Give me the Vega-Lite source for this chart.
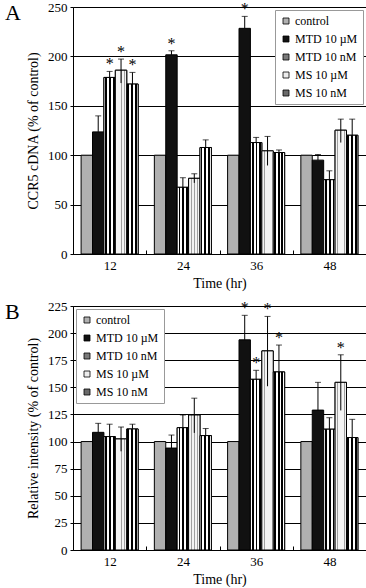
{
  "$schema": "https://vega.github.io/schema/vega-lite/v6.json",
  "background": "white",
  "padding": {"left": 4, "top": 0, "right": 2, "bottom": 0},
  "datasets": {
    "a": [
      {"t": 12, "s": "control", "v": 100},
      {"t": 12, "s": "MTD 10 µM", "v": 123.6, "hi": 139.8},
      {"t": 12, "s": "MTD 10 nM", "v": 178.7, "hi": 184.8, "sig": true},
      {"t": 12, "s": "MS 10 µM", "v": 186, "hi": 197.3, "lo": 173, "sig": true},
      {"t": 12, "s": "MS 10 nM", "v": 172, "hi": 183.8, "sig": true},
      {"t": 24, "s": "control", "v": 100},
      {"t": 24, "s": "MTD 10 µM", "v": 201.6, "hi": 205.7, "sig": true},
      {"t": 24, "s": "MTD 10 nM", "v": 67.5, "hi": 77.2},
      {"t": 24, "s": "MS 10 µM", "v": 76.6, "hi": 81.2, "lo": 72},
      {"t": 24, "s": "MS 10 nM", "v": 107.8, "hi": 115.5},
      {"t": 36, "s": "control", "v": 100},
      {"t": 36, "s": "MTD 10 µM", "v": 228.4, "hi": 240.5, "sig": true},
      {"t": 36, "s": "MTD 10 nM", "v": 112.8, "hi": 118},
      {"t": 36, "s": "MS 10 µM", "v": 104.4, "hi": 119, "lo": 89.6},
      {"t": 36, "s": "MS 10 nM", "v": 102.7, "hi": 105.3},
      {"t": 48, "s": "control", "v": 100},
      {"t": 48, "s": "MTD 10 µM", "v": 95, "hi": 100.7},
      {"t": 48, "s": "MTD 10 nM", "v": 75.2, "hi": 84.2},
      {"t": 48, "s": "MS 10 µM", "v": 125.3, "hi": 136.5, "lo": 112.8},
      {"t": 48, "s": "MS 10 nM", "v": 120.2, "hi": 136.5}
    ],
    "b": [
      {"t": 12, "s": "control", "v": 100},
      {"t": 12, "s": "MTD 10 µM", "v": 108.5, "hi": 116.8},
      {"t": 12, "s": "MTD 10 nM", "v": 104.6, "hi": 116},
      {"t": 12, "s": "MS 10 µM", "v": 102.4, "hi": 113.4, "lo": 91},
      {"t": 12, "s": "MS 10 nM", "v": 111.6, "hi": 116},
      {"t": 24, "s": "control", "v": 100},
      {"t": 24, "s": "MTD 10 µM", "v": 94, "hi": 106},
      {"t": 24, "s": "MTD 10 nM", "v": 112.8, "hi": 124.5},
      {"t": 24, "s": "MS 10 µM", "v": 124.5, "hi": 140, "lo": 108},
      {"t": 24, "s": "MS 10 nM", "v": 105.5, "hi": 112},
      {"t": 36, "s": "control", "v": 100},
      {"t": 36, "s": "MTD 10 µM", "v": 193.8, "hi": 216.4, "sig": true},
      {"t": 36, "s": "MTD 10 nM", "v": 157.4, "hi": 165.7, "sig": true},
      {"t": 36, "s": "MS 10 µM", "v": 183.6, "hi": 215.4, "lo": 151, "sig": true},
      {"t": 36, "s": "MS 10 nM", "v": 164.2, "hi": 189, "sig": true},
      {"t": 48, "s": "control", "v": 100},
      {"t": 48, "s": "MTD 10 µM", "v": 129, "hi": 154.6},
      {"t": 48, "s": "MTD 10 nM", "v": 111.4, "hi": 122},
      {"t": 48, "s": "MS 10 µM", "v": 154.6, "hi": 180, "lo": 128.7, "sig": true},
      {"t": 48, "s": "MS 10 nM", "v": 103.7, "hi": 120.5}
    ]
  },
  "config": {
    "font": "Liberation Serif",
    "view": {"stroke": "black", "strokeWidth": 1},
    "axis": {
      "labelFont": "Liberation Serif", "titleFont": "Liberation Serif",
      "labelColor": "black", "titleColor": "black",
      "labelFontSize": 13, "titleFontSize": 14, "titleFontWeight": "normal",
      "domain": false, "tickColor": "black"
    },
    "legend": {
      "labelFont": "Liberation Serif", "labelFontSize": 12, "labelColor": "black",
      "symbolType": "square", "symbolSize": 36, "symbolStrokeColor": "black", "symbolStrokeWidth": 0.8,
      "fillColor": "white", "strokeColor": "#999", "padding": 5, "rowPadding": 6, "labelOffset": 3,
      "offset": 3
    },
    "title": {"font": "Liberation Serif", "fontSize": 22, "fontWeight": "normal", "color": "black"}
  },
  "resolve": {"scale": {"y": "independent", "fill": "independent"}, "legend": {"fill": "independent"}},
  "spacing": 8,
  "vconcat": [
    {
      "width": 293, "height": 247,
      "title": {"text": "A", "anchor": "start", "frame": "group", "dx": -68, "dy": 22, "offset": -2},
      "data": {"name": "a"},
      "encoding": {
        "x": {"field": "t", "type": "ordinal", "title": "Time (hr)", "scale": {"paddingInner": 0, "paddingOuter": 0},
          "axis": {"labelAngle": 0, "tickBand": "extent", "tickSize": -4, "labelPadding": 9, "titlePadding": 4, "grid": false,
            "labelFont": "Liberation Serif", "titleFont": "Liberation Serif", "labelFontSize": 13, "titleFontSize": 14}},
        "xOffset": {"field": "s", "type": "nominal", "scale": {"domain": ["control", "MTD 10 µM", "MTD 10 nM", "MS 10 µM", "MS 10 nM"], "paddingInner": 0, "paddingOuter": 0.71}},
        "y": {"field": "v", "type": "quantitative", "title": "CCR5 cDNA (% of control)",
          "scale": {"domain": [0, 250], "nice": false},
          "axis": {"values": [0, 50, 100, 150, 200, 250], "grid": true, "gridColor": "black", "gridOpacity": 1, "tickSize": 3, "labelPadding": 3, "titlePadding": 7,
            "labelFont": "Liberation Serif", "titleFont": "Liberation Serif", "labelFontSize": 13, "titleFontSize": 14}}
      },
      "layer": [
        {
          "mark": {"type": "bar", "stroke": "black", "strokeWidth": 1},
          "encoding": {
            "fill": {"field": "s", "type": "nominal",
              "scale": {"domain": ["control", "MTD 10 µM", "MTD 10 nM", "MS 10 µM", "MS 10 nM"],
                "range": ["#b0b0b0", "#111111", "#7a7a7a", "#ececec", "#6a6a6a"]},
              "legend": {"title": null, "orient": "top-right"}}
          }
        },
        {
          "transform": [{"filter": "datum.s == 'MTD 10 nM'"}],
          "mark": {"type": "bar", "stroke": "black", "strokeWidth": 1,
            "fill": {"gradient": "linear", "x1": 0, "y1": 0, "x2": 1, "y2": 0, "stops": [
              {"offset": 0, "color": "white"}, {"offset": 0.12, "color": "white"}, {"offset": 0.12, "color": "black"}, {"offset": 0.27, "color": "black"},
              {"offset": 0.27, "color": "white"}, {"offset": 0.45, "color": "white"}, {"offset": 0.45, "color": "black"}, {"offset": 0.6, "color": "black"},
              {"offset": 0.6, "color": "white"}, {"offset": 0.78, "color": "white"}, {"offset": 0.78, "color": "black"}, {"offset": 0.93, "color": "black"},
              {"offset": 0.93, "color": "white"}, {"offset": 1, "color": "white"}]}}
        },
        {
          "transform": [{"filter": "datum.s == 'MS 10 µM'"}],
          "mark": {"type": "bar", "stroke": "black", "strokeWidth": 1,
            "fill": {"gradient": "linear", "x1": 0, "y1": 0, "x2": 1, "y2": 0, "stops": [
              {"offset": 0, "color": "#f4f4f4"}, {"offset": 0.2, "color": "#f4f4f4"}, {"offset": 0.2, "color": "#a0a0a0"}, {"offset": 0.26, "color": "#a0a0a0"},
              {"offset": 0.26, "color": "#f4f4f4"}, {"offset": 0.5, "color": "#f4f4f4"}, {"offset": 0.5, "color": "#a0a0a0"}, {"offset": 0.56, "color": "#a0a0a0"},
              {"offset": 0.56, "color": "#f4f4f4"}, {"offset": 0.78, "color": "#f4f4f4"}, {"offset": 0.78, "color": "#a0a0a0"}, {"offset": 0.84, "color": "#a0a0a0"},
              {"offset": 0.84, "color": "#f4f4f4"}, {"offset": 1, "color": "#f4f4f4"}]}}
        },
        {
          "transform": [{"filter": "datum.s == 'MS 10 nM'"}],
          "mark": {"type": "bar", "stroke": "black", "strokeWidth": 1,
            "fill": {"gradient": "linear", "x1": 0, "y1": 0, "x2": 1, "y2": 0, "stops": [
              {"offset": 0, "color": "white"}, {"offset": 0.05, "color": "white"}, {"offset": 0.05, "color": "black"}, {"offset": 0.22, "color": "black"},
              {"offset": 0.22, "color": "white"}, {"offset": 0.38, "color": "white"}, {"offset": 0.38, "color": "black"}, {"offset": 0.55, "color": "black"},
              {"offset": 0.55, "color": "white"}, {"offset": 0.71, "color": "white"}, {"offset": 0.71, "color": "black"}, {"offset": 0.88, "color": "black"},
              {"offset": 0.88, "color": "white"}, {"offset": 1, "color": "white"}]}}
        },
        {
          "transform": [{"filter": "datum.hi != null"}],
          "mark": {"type": "rule", "color": "black", "strokeWidth": 1},
          "encoding": {"y2": {"field": "hi"}}
        },
        {
          "transform": [{"filter": "datum.lo != null"}],
          "mark": {"type": "rule", "color": "black", "strokeWidth": 1},
          "encoding": {"y": {"field": "lo", "type": "quantitative", "title": "CCR5 cDNA (% of control)"}, "y2": {"field": "v"}}
        },
        {
          "transform": [{"filter": "datum.hi != null"}],
          "mark": {"type": "tick", "color": "black", "size": 6, "thickness": 1, "orient": "horizontal"},
          "encoding": {"y": {"field": "hi", "type": "quantitative", "title": "CCR5 cDNA (% of control)"}}
        },
        {
          "transform": [{"filter": "datum.sig == true"}],
          "mark": {"type": "text", "text": "*", "fontSize": 16, "font": "Liberation Serif", "baseline": "middle", "dy": -7, "fill": "black"},
          "encoding": {"y": {"field": "hi", "type": "quantitative", "title": "CCR5 cDNA (% of control)"}}
        }
      ]
    },
    {
      "width": 293, "height": 244,
      "title": {"text": "B", "anchor": "start", "frame": "group", "dx": -68, "dy": 22, "offset": -2},
      "data": {"name": "b"},
      "encoding": {
        "x": {"field": "t", "type": "ordinal", "title": "Time (hr)", "scale": {"paddingInner": 0, "paddingOuter": 0},
          "axis": {"labelAngle": 0, "tickBand": "extent", "tickSize": -4, "labelPadding": 9, "titlePadding": 4, "grid": false,
            "labelFont": "Liberation Serif", "titleFont": "Liberation Serif", "labelFontSize": 13, "titleFontSize": 14}},
        "xOffset": {"field": "s", "type": "nominal", "scale": {"domain": ["control", "MTD 10 µM", "MTD 10 nM", "MS 10 µM", "MS 10 nM"], "paddingInner": 0, "paddingOuter": 0.71}},
        "y": {"field": "v", "type": "quantitative", "title": "Relative intensity (% of control)",
          "scale": {"domain": [0, 225], "nice": false},
          "axis": {"values": [0, 25, 50, 75, 100, 125, 150, 175, 200, 225], "grid": true, "gridColor": "black", "gridOpacity": 1, "tickSize": 3, "labelPadding": 3, "titlePadding": 7,
            "labelFont": "Liberation Serif", "titleFont": "Liberation Serif", "labelFontSize": 13, "titleFontSize": 14}}
      },
      "layer": [
        {
          "mark": {"type": "bar", "stroke": "black", "strokeWidth": 1},
          "encoding": {
            "fill": {"field": "s", "type": "nominal",
              "scale": {"domain": ["control", "MTD 10 µM", "MTD 10 nM", "MS 10 µM", "MS 10 nM"],
                "range": ["#b0b0b0", "#111111", "#7a7a7a", "#ececec", "#6a6a6a"]},
              "legend": {"title": null, "orient": "top-left"}}
          }
        },
        {
          "transform": [{"filter": "datum.s == 'MTD 10 nM'"}],
          "mark": {"type": "bar", "stroke": "black", "strokeWidth": 1,
            "fill": {"gradient": "linear", "x1": 0, "y1": 0, "x2": 1, "y2": 0, "stops": [
              {"offset": 0, "color": "white"}, {"offset": 0.12, "color": "white"}, {"offset": 0.12, "color": "black"}, {"offset": 0.27, "color": "black"},
              {"offset": 0.27, "color": "white"}, {"offset": 0.45, "color": "white"}, {"offset": 0.45, "color": "black"}, {"offset": 0.6, "color": "black"},
              {"offset": 0.6, "color": "white"}, {"offset": 0.78, "color": "white"}, {"offset": 0.78, "color": "black"}, {"offset": 0.93, "color": "black"},
              {"offset": 0.93, "color": "white"}, {"offset": 1, "color": "white"}]}}
        },
        {
          "transform": [{"filter": "datum.s == 'MS 10 µM'"}],
          "mark": {"type": "bar", "stroke": "black", "strokeWidth": 1,
            "fill": {"gradient": "linear", "x1": 0, "y1": 0, "x2": 1, "y2": 0, "stops": [
              {"offset": 0, "color": "#f4f4f4"}, {"offset": 0.2, "color": "#f4f4f4"}, {"offset": 0.2, "color": "#a0a0a0"}, {"offset": 0.26, "color": "#a0a0a0"},
              {"offset": 0.26, "color": "#f4f4f4"}, {"offset": 0.5, "color": "#f4f4f4"}, {"offset": 0.5, "color": "#a0a0a0"}, {"offset": 0.56, "color": "#a0a0a0"},
              {"offset": 0.56, "color": "#f4f4f4"}, {"offset": 0.78, "color": "#f4f4f4"}, {"offset": 0.78, "color": "#a0a0a0"}, {"offset": 0.84, "color": "#a0a0a0"},
              {"offset": 0.84, "color": "#f4f4f4"}, {"offset": 1, "color": "#f4f4f4"}]}}
        },
        {
          "transform": [{"filter": "datum.s == 'MS 10 nM'"}],
          "mark": {"type": "bar", "stroke": "black", "strokeWidth": 1,
            "fill": {"gradient": "linear", "x1": 0, "y1": 0, "x2": 1, "y2": 0, "stops": [
              {"offset": 0, "color": "white"}, {"offset": 0.05, "color": "white"}, {"offset": 0.05, "color": "black"}, {"offset": 0.22, "color": "black"},
              {"offset": 0.22, "color": "white"}, {"offset": 0.38, "color": "white"}, {"offset": 0.38, "color": "black"}, {"offset": 0.55, "color": "black"},
              {"offset": 0.55, "color": "white"}, {"offset": 0.71, "color": "white"}, {"offset": 0.71, "color": "black"}, {"offset": 0.88, "color": "black"},
              {"offset": 0.88, "color": "white"}, {"offset": 1, "color": "white"}]}}
        },
        {
          "transform": [{"filter": "datum.hi != null"}],
          "mark": {"type": "rule", "color": "black", "strokeWidth": 1},
          "encoding": {"y2": {"field": "hi"}}
        },
        {
          "transform": [{"filter": "datum.lo != null"}],
          "mark": {"type": "rule", "color": "black", "strokeWidth": 1},
          "encoding": {"y": {"field": "lo", "type": "quantitative", "title": "Relative intensity (% of control)"}, "y2": {"field": "v"}}
        },
        {
          "transform": [{"filter": "datum.hi != null"}],
          "mark": {"type": "tick", "color": "black", "size": 6, "thickness": 1, "orient": "horizontal"},
          "encoding": {"y": {"field": "hi", "type": "quantitative", "title": "Relative intensity (% of control)"}}
        },
        {
          "transform": [{"filter": "datum.sig == true"}],
          "mark": {"type": "text", "text": "*", "fontSize": 16, "font": "Liberation Serif", "baseline": "middle", "dy": -7, "fill": "black"},
          "encoding": {"y": {"field": "hi", "type": "quantitative", "title": "Relative intensity (% of control)"}}
        }
      ]
    }
  ]
}
